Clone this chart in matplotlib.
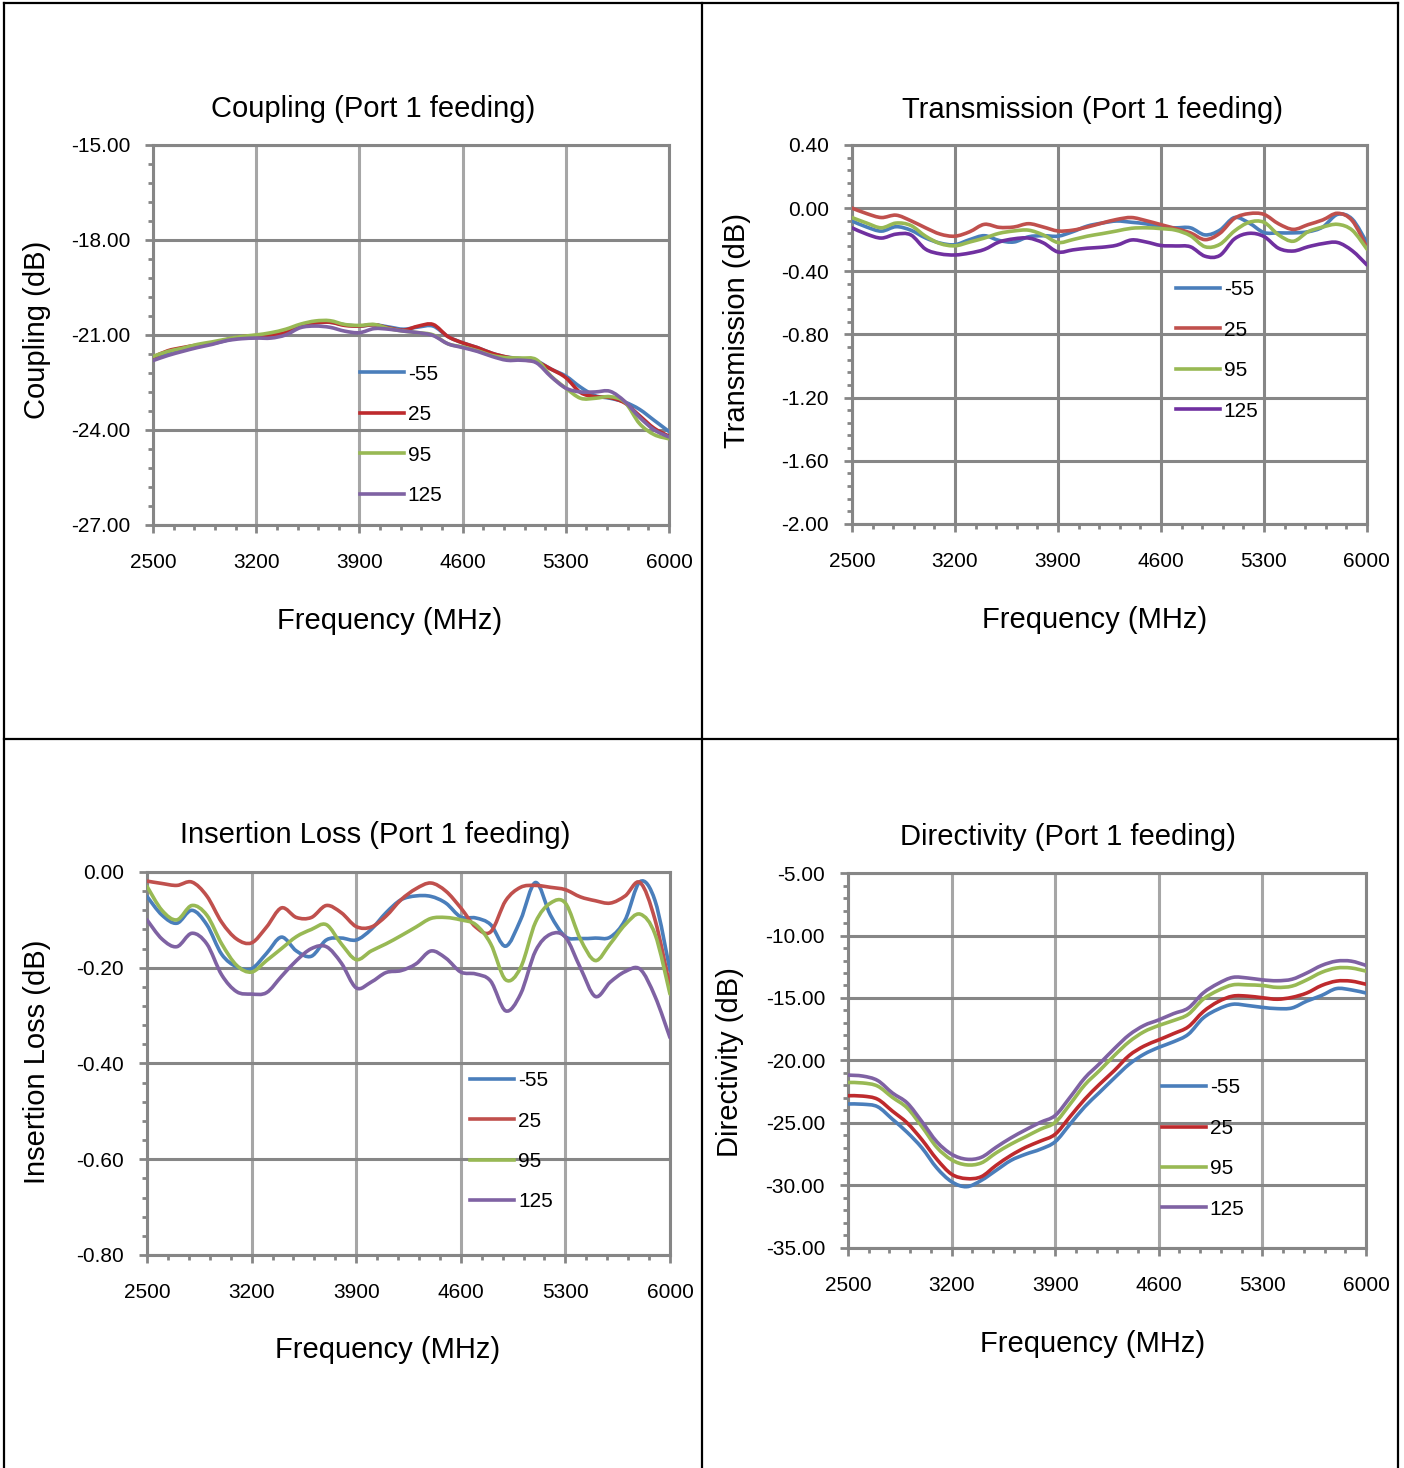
"""
S-parameter summary (Port 1 feeding) - four panels in a bordered 2x2 table
Generates: out.png
"""
from __future__ import annotations

import matplotlib
matplotlib.use("Agg")
import matplotlib.pyplot as plt
import numpy as np
from matplotlib.lines import Line2D
from matplotlib.patches import PathPatch
from matplotlib.path import Path
from matplotlib.ticker import AutoMinorLocator, FixedLocator, FuncFormatter

FREQ_MHZ = list(range(2500, 6001, 100))
TEMPS = ["-55", "25", "95", "125"]

# Coupling (dB)
COUPLING_M55 = [-21.74, -21.55, -21.43, -21.35, -21.28, -21.17, -21.08, -21.03, -21.05, -20.95,
                -20.72, -20.62, -20.60, -20.68, -20.72, -20.68, -20.75, -20.82, -20.75, -20.72,
                -21.05, -21.25, -21.40, -21.58, -21.70, -21.75, -21.82, -22.08, -22.30, -22.65,
                -22.92, -23.00, -23.12, -23.35, -23.70, -24.05]
COUPLING_25 = [-21.70, -21.50, -21.40, -21.32, -21.26, -21.15, -21.06, -21.02, -21.00, -20.92,
               -20.70, -20.62, -20.60, -20.70, -20.72, -20.68, -20.78, -20.85, -20.72, -20.67,
               -21.05, -21.25, -21.40, -21.58, -21.70, -21.78, -21.85, -22.08, -22.35, -22.82,
               -22.95, -22.98, -23.15, -23.55, -23.95, -24.20]
COUPLING_95 = [-21.68, -21.52, -21.42, -21.30, -21.22, -21.13, -21.05, -21.00, -20.93, -20.82,
               -20.66, -20.56, -20.55, -20.67, -20.70, -20.67, -20.80, -20.88, -20.93, -21.00,
               -21.28, -21.38, -21.50, -21.65, -21.72, -21.73, -21.78, -22.30, -22.68, -23.00,
               -23.00, -22.95, -23.12, -23.80, -24.15, -24.28]
COUPLING_125 = [-21.81, -21.65, -21.52, -21.40, -21.30, -21.18, -21.12, -21.10, -21.10, -21.00,
                -20.77, -20.72, -20.76, -20.88, -20.93, -20.80, -20.82, -20.88, -20.93, -21.02,
                -21.28, -21.40, -21.52, -21.68, -21.80, -21.80, -21.88, -22.32, -22.68, -22.80,
                -22.80, -22.78, -23.10, -23.60, -24.00, -24.22]

# Transmission (dB)
TRANS_M55 = [-0.082, -0.120, -0.146, -0.118, -0.140, -0.189, -0.222, -0.232, -0.200, -0.175,
             -0.205, -0.215, -0.182, -0.175, -0.178, -0.150, -0.114, -0.095, -0.082, -0.090,
             -0.100, -0.120, -0.125, -0.125, -0.170, -0.140, -0.060, -0.095, -0.155, -0.157,
             -0.157, -0.150, -0.120, -0.040, -0.070, -0.220]
TRANS_25 = [0.000, -0.035, -0.060, -0.045, -0.080, -0.125, -0.165, -0.178, -0.150, -0.103,
            -0.122, -0.120, -0.099, -0.120, -0.145, -0.140, -0.120, -0.095, -0.072, -0.060,
            -0.080, -0.105, -0.130, -0.157, -0.200, -0.160, -0.065, -0.035, -0.040, -0.100,
            -0.135, -0.105, -0.075, -0.033, -0.080, -0.250]
TRANS_95 = [-0.060, -0.095, -0.125, -0.095, -0.110, -0.178, -0.225, -0.239, -0.215, -0.190,
            -0.160, -0.145, -0.140, -0.170, -0.218, -0.200, -0.178, -0.162, -0.145, -0.128,
            -0.125, -0.130, -0.140, -0.175, -0.245, -0.230, -0.145, -0.090, -0.090, -0.170,
            -0.210, -0.150, -0.120, -0.103, -0.140, -0.260]
TRANS_125 = [-0.125, -0.165, -0.190, -0.165, -0.170, -0.260, -0.290, -0.297, -0.285, -0.262,
             -0.215, -0.195, -0.190, -0.220, -0.278, -0.265, -0.254, -0.248, -0.235, -0.202,
             -0.215, -0.237, -0.240, -0.245, -0.305, -0.300, -0.195, -0.160, -0.180, -0.255,
             -0.272, -0.245, -0.225, -0.218, -0.270, -0.360]

# Insertion loss (dB)
IL_M55 = [-0.051, -0.090, -0.107, -0.080, -0.110, -0.172, -0.198, -0.202, -0.170, -0.136,
          -0.165, -0.176, -0.142, -0.138, -0.142, -0.120, -0.085, -0.058, -0.050, -0.051,
          -0.065, -0.094, -0.096, -0.110, -0.155, -0.100, -0.022, -0.090, -0.135, -0.139,
          -0.138, -0.136, -0.100, -0.020, -0.060, -0.206]
IL_25 = [-0.019, -0.024, -0.028, -0.021, -0.050, -0.105, -0.140, -0.148, -0.115, -0.075,
         -0.095, -0.095, -0.070, -0.085, -0.114, -0.115, -0.092, -0.058, -0.035, -0.023,
         -0.040, -0.075, -0.115, -0.125, -0.060, -0.032, -0.028, -0.032, -0.037, -0.052,
         -0.060, -0.065, -0.050, -0.022, -0.100, -0.240]
IL_95 = [-0.030, -0.080, -0.100, -0.070, -0.090, -0.150, -0.195, -0.209, -0.185, -0.160,
         -0.135, -0.120, -0.110, -0.150, -0.183, -0.165, -0.150, -0.133, -0.115, -0.097,
         -0.095, -0.100, -0.110, -0.150, -0.225, -0.200, -0.105, -0.065, -0.065, -0.140,
         -0.185, -0.150, -0.110, -0.088, -0.130, -0.255]
IL_125 = [-0.100, -0.140, -0.156, -0.128, -0.150, -0.215, -0.250, -0.255, -0.252, -0.218,
          -0.185, -0.160, -0.156, -0.190, -0.242, -0.230, -0.210, -0.206, -0.192, -0.165,
          -0.180, -0.209, -0.213, -0.228, -0.290, -0.255, -0.165, -0.130, -0.136, -0.200,
          -0.260, -0.230, -0.208, -0.203, -0.260, -0.346]

# Directivity (dB)
DIR_M55 = [-23.48, -23.50, -23.70, -24.70, -25.75, -27.00, -28.60, -29.70, -30.10, -29.60,
           -28.80, -28.00, -27.50, -27.10, -26.50, -25.10, -23.70, -22.55, -21.40, -20.30,
           -19.50, -18.95, -18.50, -17.90, -16.60, -15.90, -15.50, -15.60, -15.75, -15.85,
           -15.80, -15.25, -14.80, -14.25, -14.35, -14.60]
DIR_25 = [-22.82, -22.85, -23.10, -24.05, -25.00, -26.35, -27.90, -29.10, -29.45, -29.30,
          -28.40, -27.60, -26.95, -26.45, -25.90, -24.50, -23.10, -21.90, -20.80, -19.60,
          -18.85, -18.35, -17.85, -17.30, -16.10, -15.30, -14.85, -14.85, -14.98, -15.10,
          -14.95, -14.60, -14.00, -13.65, -13.65, -13.90]
DIR_95 = [-21.76, -21.80, -22.05, -22.95, -23.80, -25.30, -26.95, -27.95, -28.35, -28.20,
          -27.40, -26.70, -26.10, -25.50, -24.95, -23.50, -21.95, -20.80, -19.60, -18.50,
          -17.70, -17.20, -16.80, -16.30, -15.10, -14.40, -13.95, -13.95, -14.00, -14.15,
          -14.05, -13.55, -12.95, -12.60, -12.60, -12.85]
DIR_125 = [-21.17, -21.25, -21.60, -22.60, -23.40, -24.90, -26.50, -27.50, -27.90, -27.75,
           -26.95, -26.20, -25.55, -24.95, -24.40, -22.95, -21.40, -20.25, -19.05, -17.95,
           -17.20, -16.75, -16.25, -15.80, -14.60, -13.85, -13.35, -13.40, -13.55, -13.62,
           -13.50, -13.00, -12.40, -12.05, -12.05, -12.39]

GRID_DARK = "#868686"
GRID_LIGHT = "#a6a6a6"
FONT = ["Liberation Sans", "DejaVu Sans"]
TICK_FS = 15
LABEL_FS = 21
LINE_W = 2.6

PANELS = [
    dict(title="Coupling (Port 1 feeding)", ylabel="Coupling (dB)",
         series=[COUPLING_M55, COUPLING_25, COUPLING_95, COUPLING_125],
         colors=["#4a7ebb", "#be2a2d", "#98b954", "#7f62a3"],
         ylim=(-27.0, -15.0), ystep=3.0, vgrid=GRID_LIGHT,
         rect=(0.1090, 0.6424, 0.3675, 0.2589),
         title_xy=(373, 109), xlabel_xy=(390, 621), ylabel_xy=(37, 330),
         legend_xy=(0.401, 0.237)),
    dict(title="Transmission (Port 1 feeding)", ylabel="Transmission (dB)",
         series=[TRANS_M55, TRANS_25, TRANS_95, TRANS_125],
         colors=["#4a7ebb", "#c0504d", "#98b954", "#7030a0"],
         ylim=(-2.0, 0.4), ystep=0.4, vgrid=GRID_DARK,
         rect=(0.6068, 0.6431, 0.3668, 0.2582),
         title_xy=(1092, 110), xlabel_xy=(1095, 620), ylabel_xy=(737, 330),
         legend_xy=(0.629, 0.458)),
    dict(title="Insertion Loss (Port 1 feeding)", ylabel="Insertion Loss (dB)",
         series=[IL_M55, IL_25, IL_95, IL_125],
         colors=["#4a7ebb", "#c0504d", "#98b954", "#7f62a3"],
         ylim=(-0.8, 0.0), ystep=0.2, vgrid=GRID_LIGHT,
         rect=(0.1047, 0.1451, 0.3725, 0.2609),
         title_xy=(375, 835), xlabel_xy=(388, 1350), ylabel_xy=(37, 1062),
         legend_xy=(0.6176, 0.297)),
    dict(title="Directivity (Port 1 feeding)", ylabel="Directivity (dB)",
         series=[DIR_M55, DIR_25, DIR_95, DIR_125],
         colors=["#4a7ebb", "#be2a2d", "#98b954", "#7f62a3"],
         ylim=(-35.0, -5.0), ystep=5.0, vgrid=GRID_LIGHT,
         rect=(0.6040, 0.1499, 0.3689, 0.2554),
         title_xy=(1068, 837), xlabel_xy=(1093, 1344), ylabel_xy=(730, 1062),
         legend_xy=(0.606, 0.265)),
]

W, H = 1404, 1468


def smooth_path(x, y) -> Path:
    # Excel-style "smoothed line": cubic Bezier through every point (Catmull-Rom handles)
    pts = np.column_stack([np.asarray(x, float), np.asarray(y, float)])
    n = len(pts)
    verts = [pts[0]]
    codes = [Path.MOVETO]
    for i in range(n - 1):
        p0 = pts[i - 1] if i > 0 else pts[i]
        p1, p2 = pts[i], pts[i + 1]
        p3 = pts[i + 2] if i + 2 < n else pts[i + 1]
        verts += [p1 + (p2 - p0) / 6.0, p2 - (p3 - p1) / 6.0, p2]
        codes += [Path.CURVE4] * 3
    return Path(verts, codes)


def fmt_tick(v, _pos) -> str:
    s = f"{v:.2f}"
    return "0.00" if s == "-0.00" else s


def draw_panel(fig, p: dict) -> None:
    ax = fig.add_axes(p["rect"])
    handles = []
    for vals, color, label in zip(p["series"], p["colors"], TEMPS):
        ax.add_patch(PathPatch(smooth_path(FREQ_MHZ, vals), fill=False, edgecolor=color,
                               lw=LINE_W, zorder=3, joinstyle="round", capstyle="round"))
        handles.append(Line2D([], [], color=color, lw=LINE_W, label=label))

    ax.set_xlim(2500, 6000)
    ax.set_ylim(*p["ylim"])
    ax.xaxis.set_major_locator(FixedLocator(np.arange(2500, 6001, 700)))
    ax.xaxis.set_minor_locator(FixedLocator(np.arange(2500, 6001, 140)))
    lo, hi = p["ylim"]
    ax.yaxis.set_major_locator(FixedLocator(np.arange(lo, hi + 1e-9, p["ystep"])))
    ax.yaxis.set_minor_locator(AutoMinorLocator(5))
    ax.yaxis.set_major_formatter(FuncFormatter(fmt_tick))

    ax.grid(axis="y", which="major", color=GRID_DARK, lw=2.2, zorder=1)
    ax.grid(axis="x", which="major", color=p["vgrid"], lw=2.2, zorder=1)
    ax.set_axisbelow(True)
    for spine in ax.spines.values():
        spine.set_color(GRID_DARK)
        spine.set_linewidth(2.2)

    ax.tick_params(which="both", direction="out", color=GRID_DARK, width=2.0,
                   labelsize=TICK_FS, labelcolor="black")
    ax.tick_params(which="major", length=5.5)
    ax.tick_params(which="minor", length=3.5)
    ax.tick_params(axis="x", which="major", pad=15)
    ax.tick_params(axis="y", which="major", pad=11)

    ax.legend(handles=handles, loc="center left", bbox_to_anchor=p["legend_xy"],
              frameon=False, fontsize=TICK_FS, handlelength=2.1, handletextpad=0.2,
              labelspacing=1.03, borderpad=0, borderaxespad=0)

    tx, ty = p["title_xy"]
    fig.text(tx / W, 1 - ty / H, p["title"], ha="center", va="center", fontsize=LABEL_FS)
    lx, ly = p["xlabel_xy"]
    fig.text(lx / W, 1 - ly / H, "Frequency (MHz)", ha="center", va="center",
             fontsize=LABEL_FS)
    yx, yy = p["ylabel_xy"]
    fig.text(yx / W, 1 - yy / H, p["ylabel"], ha="center", va="center",
             fontsize=LABEL_FS, rotation=90)


def draw_table(fig) -> None:
    # outer frame of the 2x2 layout table (open at the bottom)
    segments = [
        ((4, 1398), (3, 3)),
        ((4, 1398), (739, 739)),
        ((4, 4), (3, H)),
        ((702, 702), (3, H)),
        ((1398, 1398), (3, H)),
    ]
    for xs, ys in segments:
        fig.add_artist(Line2D([x / W for x in xs], [1 - y / H for y in ys],
                              color="black", lw=1.6, transform=fig.transFigure))


def main() -> None:
    plt.rcParams["font.family"] = FONT
    plt.rcParams["axes.unicode_minus"] = False
    fig = plt.figure(figsize=(W / 100, H / 100), dpi=100, facecolor="white")
    for p in PANELS:
        draw_panel(fig, p)
    draw_table(fig)
    fig.savefig("out.png", dpi=100, facecolor="white")
    plt.close(fig)


if __name__ == "__main__":
    main()
